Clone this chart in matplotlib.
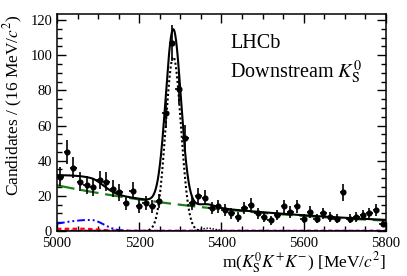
import numpy as np
import matplotlib.pyplot as plt
from matplotlib.ticker import MultipleLocator

plt.rcParams['font.family'] = ['Liberation Serif', 'DejaVu Serif']
plt.rcParams['mathtext.fontset'] = 'stix'

# binning: 16 MeV bins from 5000 to 5800
bin_lo = 5000
bin_width = 16
# candidates per bin
counts = [31, 45, 36, 28, 26, 25, 29, 28, 24, 22,
          16, 23, 14, 16, 14, 17, 67, 107, 81, 53,
          16, 20, 19, 13, 14, 12, 10, 8, 13, 15,
          10, 8, 6, 9, 14, 11, 14, 7, 11, 7,
          10, 8, 7, 22, 7, 8, 9, 10, 12, 4]

# fit components (parameters)
sig_peak, sig_mean, sig_width = 99.0, 5283.0, 18.5
bs_peak, bs_mean, bs_width = 1.6, 5367.0, 18.5
comb_start, comb_slope = 26.0, -0.00185
part_peak, part_mean, part_wl, part_wr = 6.3, 5082.0, 90.0, 31.0
red_peak, red_mean, red_wl, red_wr = 1.3, 5060.0, 200.0, 40.0
other_level = 0.4


def gauss(m, a, mu, s):
    return a * np.exp(-0.5 * ((m - mu) / s) ** 2)


def asym_gauss(m, a, mu, sl, sr):
    s = np.where(m < mu, sl, sr)
    return a * np.exp(-0.5 * ((m - mu) / s) ** 2)


centers = bin_lo + bin_width * (np.arange(len(counts)) + 0.5)
counts = np.array(counts, dtype=float)
errs = np.sqrt(counts)

m = np.linspace(5000, 5800, 1600)
sig = gauss(m, sig_peak, sig_mean, sig_width)
bs = gauss(m, bs_peak, bs_mean, bs_width)
comb = comb_start * np.exp(comb_slope * (m - 5000))
part = asym_gauss(m, part_peak, part_mean, part_wl, part_wr)
red = asym_gauss(m, red_peak, red_mean, red_wl, red_wr)
other = np.full_like(m, other_level)
total = sig + bs + comb + part + red + other

fig = plt.figure(figsize=(4.07, 2.76), dpi=100)
ax = fig.add_axes([0.140, 0.163, 0.808, 0.786])

ax.plot(m, other, color='magenta', lw=1.0, ls=(0, (3, 2)))
ax.plot(m, red, color='red', lw=1.6, ls=(0, (2, 1.5)))
ax.plot(m, part, color='blue', lw=1.4, ls=(0, (4, 1.5, 1, 1.5, 1, 1.5)))
ax.plot(m, comb, color='#1b7f1b', lw=1.6, ls=(0, (8, 3)))
ax.plot(m, sig, color='black', lw=1.5, ls=(0, (1, 1.2)))
ax.plot(m, bs, color='black', lw=1.0, ls=(0, (1, 1.2)))
ax.plot(m, total, color='black', lw=1.5)

ax.errorbar(centers, counts, yerr=errs, xerr=bin_width / 2, fmt='o',
            color='black', ms=3.4, elinewidth=1.2, capsize=0)

ax.set_xlim(5000, 5800)
ax.set_ylim(0, 123.4)
ax.xaxis.set_major_locator(MultipleLocator(200))
ax.xaxis.set_minor_locator(MultipleLocator(50))
ax.yaxis.set_major_locator(MultipleLocator(20))
ax.yaxis.set_minor_locator(MultipleLocator(5))
ax.tick_params(which='both', direction='in', top=True, right=True,
               labelsize=10.5, width=1.0)
ax.tick_params(which='major', length=6.5, pad=3.5)
ax.tick_params(axis='x', which='major', pad=4.5)
ax.tick_params(which='minor', length=3.5)
for sp in ax.spines.values():
    sp.set_linewidth(1.1)

ax.set_xlabel(r'm($K^0_\mathrm{S}K^{+}K^{-}$) [MeV/$c^2$]', fontsize=12.5,
              loc='right', labelpad=0)
ax.set_ylabel(r'Candidates / (16 MeV/$c^2$)', fontsize=12.5, loc='top',
              labelpad=4)

fig.text(230 / 407, 1 - 48 / 276, 'LHCb', fontsize=14.5, va='baseline')
fig.text(230 / 407, 1 - 78 / 276, r'Downstream $K^0_\mathrm{S}$',
         fontsize=14.5, va='baseline')

fig.savefig('out.png', dpi=100)
